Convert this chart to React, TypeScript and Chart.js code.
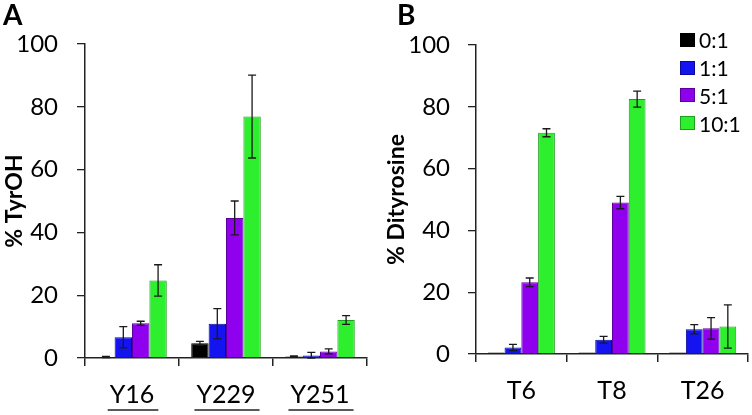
import { useEffect, useRef } from 'react';
import { Chart, registerables } from 'chart.js';

Chart.register(...registerables);

// mole ratios (legend) and bar colours
const ratios = ['0:1', '1:1', '5:1', '10:1'];
const ratioColors = ['#000000', '#1414f0', '#8e00ee', '#2eef2e'];
const ratioBorders = ['#000000', '#0a0a9a', '#5c009c', '#1f9f1f'];

// panel A: % TyrOH per tyrosine site
const sitesA = ['Y16', 'Y229', 'Y251'];
const tyrOH_0 = [0.3, 4.7, 0.5];
const tyrOH_1 = [6.6, 10.9, 0.8];
const tyrOH_5 = [11.1, 44.6, 2.1];
const tyrOH_10 = [24.7, 76.9, 12.1];
const tyrOHErr_0 = [0.2, 0.6, 0.2];
const tyrOHErr_1 = [3.4, 4.8, 1.0];
const tyrOHErr_5 = [0.6, 5.4, 0.8];
const tyrOHErr_10 = [5.0, 13.2, 1.4];

// panel B: % dityrosine per peptide
const sitesB = ['T6', 'T8', 'T26'];
const dity_0 = [0.5, 0.5, 0.5];
const dity_1 = [2.1, 4.6, 8.0];
const dity_5 = [23.2, 49.0, 8.3];
const dity_10 = [71.6, 82.5, 8.9];
const dityErr_0 = [0, 0, 0];
const dityErr_1 = [1.0, 1.1, 1.5];
const dityErr_5 = [1.4, 2.0, 3.5];
const dityErr_10 = [1.3, 2.6, 7.0];

const yTicks = [0, 20, 40, 60, 80, 100];

const FONT = 'Lato';

const errorBars = {
  id: 'errorBars',
  afterDatasetsDraw(chart: any) {
    const { ctx } = chart;
    const y = chart.scales.y;
    ctx.save();
    ctx.strokeStyle = '#1a1a1a';
    ctx.lineWidth = 1.3;
    chart.data.datasets.forEach((ds: any, i: number) => {
      const meta = chart.getDatasetMeta(i);
      meta.data.forEach((bar: any, j: number) => {
        const err = ds.errors[j];
        if (!err) return;
        const v = ds.data[j];
        const top = y.getPixelForValue(v + err);
        const bot = y.getPixelForValue(Math.max(0, v - err));
        ctx.beginPath();
        ctx.moveTo(bar.x, top);
        ctx.lineTo(bar.x, bot);
        ctx.moveTo(bar.x - 4, top);
        ctx.lineTo(bar.x + 4, top);
        ctx.moveTo(bar.x - 4, bot);
        ctx.lineTo(bar.x + 4, bot);
        ctx.stroke();
      });
    });
    ctx.restore();
  },
};

const underlineLabels = {
  id: 'underlineLabels',
  afterDraw(chart: any, _args: any, opts: any) {
    if (!opts.enabled) return;
    const { ctx } = chart;
    const x = chart.scales.x;
    ctx.save();
    ctx.font = `25px ${FONT}`;
    ctx.strokeStyle = '#222';
    ctx.lineWidth = 1.5;
    (chart.data.labels as string[]).forEach((lab, i) => {
      const cx = x.getPixelForValue(i);
      const w = ctx.measureText(lab).width;
      ctx.beginPath();
      ctx.moveTo(cx - w / 2 - 2, opts.y);
      ctx.lineTo(cx + w / 2 + 4, opts.y);
      ctx.stroke();
    });
    ctx.restore();
  },
};

type PanelProps = {
  labels: string[];
  series: number[][];
  errors: number[][];
  yTitle: string;
  yWidth: number;
  padRight: number;
  top: number;
  bottom: number;
  titlePad: number;
  tickPad: number;
  underline: boolean;
};

function Panel(p: PanelProps) {
  const ref = useRef<HTMLCanvasElement>(null);

  useEffect(() => {
    if (!ref.current) return;
    const ctx = ref.current.getContext('2d');
    if (!ctx) return;

    const chart = new Chart(ctx, {
      type: 'bar',
      data: {
        labels: p.labels,
        datasets: ratios.map((r, i) => ({
          label: r,
          data: p.series[i],
          errors: p.errors[i],
          backgroundColor: ratioColors[i],
          borderColor: ratioBorders[i],
          borderWidth: 1,
          barPercentage: 1,
          categoryPercentage: 0.74,
        })) as any,
      },
      options: {
        responsive: false,
        animation: false,
        layout: { padding: { left: 0, right: p.padRight, top: p.top, bottom: 0 } },
        plugins: {
          legend: { display: false },
          tooltip: { enabled: false },
          underlineLabels: { enabled: p.underline, y: 410 },
        } as any,
        scales: {
          x: {
            offset: true,
            grid: {
              display: true,
              offset: true,
              drawOnChartArea: false,
              drawTicks: true,
              tickLength: 8,
              color: '#222',
              lineWidth: 1.5,
            },
            border: { display: true, color: '#222', width: 1.5 },
            ticks: { color: '#000', font: { family: FONT, size: 25 }, padding: 14 },
            afterFit: (s: any) => { s.height = 415 - p.bottom; },
          },
          y: {
            min: 0,
            max: 100,
            afterBuildTicks: (s: any) => { s.ticks = yTicks.map((v) => ({ value: v })); },
            grid: {
              display: true,
              drawOnChartArea: false,
              drawTicks: true,
              tickLength: 8,
              color: '#222',
              lineWidth: 1.3,
            },
            border: { display: true, color: '#222', width: 1.5 },
            ticks: { color: '#000', font: { family: FONT, size: 24 }, padding: p.tickPad },
            title: {
              display: true,
              text: p.yTitle,
              color: '#000',
              font: { family: FONT, size: 23, weight: 'bold' },
              padding: { top: p.titlePad, bottom: 0 },
            },
            afterFit: (s: any) => { s.width = p.yWidth; },
          },
        },
      },
      plugins: [errorBars, underlineLabels],
    });

    return () => chart.destroy();
  }, []);

  return <canvas ref={ref} width={376} height={415} />;
}

export default function App() {
  return (
    <div style={{ position: 'absolute', left: 0, top: 0, width: 752, height: 415, background: '#fff', fontFamily: FONT }}>
      <div style={{ position: 'absolute', left: 0, top: 0 }}>
        <Panel
          labels={sitesA}
          series={[tyrOH_0, tyrOH_1, tyrOH_5, tyrOH_10]}
          errors={[tyrOHErr_0, tyrOHErr_1, tyrOHErr_5, tyrOHErr_10]}
          yTitle="% TyrOH"
          yWidth={85}
          padRight={9}
          top={44}
          bottom={358}
          titlePad={1}
          tickPad={19}
          underline={true}
        />
      </div>
      <div style={{ position: 'absolute', left: 376, top: 0 }}>
        <Panel
          labels={sitesB}
          series={[dity_0, dity_1, dity_5, dity_10]}
          errors={[dityErr_0, dityErr_1, dityErr_5, dityErr_10]}
          yTitle="% Dityrosine"
          yWidth={100}
          padRight={4}
          top={45}
          bottom={354}
          titlePad={7}
          tickPad={18}
          underline={false}
        />
      </div>
      <div style={{ position: 'absolute', left: 3, top: 0, fontSize: 28, fontWeight: 'bold', lineHeight: 1 }}>A</div>
      <div style={{ position: 'absolute', left: 397, top: 0, fontSize: 28, fontWeight: 'bold', lineHeight: 1 }}>B</div>
      <div style={{ position: 'absolute', left: 680, top: 26 }}>
        {ratios.map((r, i) => (
          <div key={r} style={{ display: 'flex', alignItems: 'center', height: 27.8 }}>
            <span style={{ width: 15, height: 14, background: ratioColors[i], border: `1px solid ${ratioBorders[i]}`, boxSizing: 'border-box', marginRight: 4 }} />
            <span style={{ fontSize: 21, lineHeight: 1, color: '#000' }}>{r}</span>
          </div>
        ))}
      </div>
    </div>
  );
}
